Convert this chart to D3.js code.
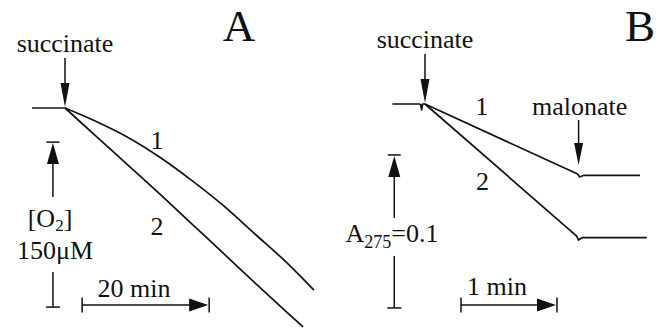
<!DOCTYPE html>
<html lang="en">
<head>
<meta charset="utf-8">
<title>Succinate oxidation traces</title>
<script src="https://d3js.org/d3.v7.min.js"></script>
<style>
  body { margin: 0; background: #fff; }
  text { font-family: "Liberation Serif", "Times New Roman", serif; fill: #111; font-size: 26px; }
</style>
</head>
<body>
<svg width="665" height="331"></svg>
<script>
// panel A: oxygen electrode trace, time in min, [O2] in uM
const baseTimeA = [-5.2, 0];
const baseO2A = [250, 250];
const timeA1 = [0, 5, 10, 15, 20, 25, 30, 35, 39.2];
const o2A1 = [250, 237.5, 223, 205, 184, 161, 135, 109, 84.5];
const timeA2 = [0, 5, 10, 15, 20, 25, 30, 35, 37.5];
const o2A2 = [250, 223.8, 197.6, 171.4, 144.5, 117.6, 90.5, 64, 51];

// panel B: A275 trace, time in min
const baseTimeB = [-0.34, -0.06, -0.045, -0.035, -0.025, 0];
const absBaseB = [0.300, 0.300, 0.2995, 0.2962, 0.300, 0.300];
const timeB1 = [0, 1.59, 1.61, 1.65, 2.24];
const absB1 = [0.300, 0.2542, 0.2523, 0.2533, 0.2533];
const timeB2 = [0, 1.58, 1.60, 1.64, 2.31];
const absB2 = [0.300, 0.2137, 0.2111, 0.2127, 0.2127];

// additions and scale bars
const succinateTime = 0;
const malonateTime = 1.6;
const barA = {t: -1.9, top: 219, bottom: 69, t0: 2.7, t1: 22.7};   // 150 uM, 20 min
const barB = {t: -0.32, top: 0.2667, bottom: 0.1667, t0: 0.375, t1: 1.375}; // 0.1, 1 min

const svg = d3.select("svg");

const xA = d3.scaleLinear().domain([0, 20]).range([65, 192]);
const yA = d3.scaleLinear().domain([250, 100]).range([108, 273]);
const xB = d3.scaleLinear().domain([0, 1]).range([425, 521]);
const yB = d3.scaleLinear().domain([0.3, 0.2]).range([104, 257]);

function zip(ts, vs) { return ts.map((t, i) => [t, vs[i]]) }

function trace(x, y, data, curve) {
  svg.append("path")
    .datum(data)
    .attr("fill", "none")
    .attr("stroke", "#111")
    .attr("stroke-width", 1.7)
    .attr("stroke-linejoin", "round")
    .attr("d", d3.line().x(d => x(d[0])).y(d => y(d[1])).curve(curve));
}

function head(x, y, dir, len, half) {
  let pts;
  if (dir == "down") pts = [[x, y], [x - half, y - len], [x + half, y - len]];
  if (dir == "up") pts = [[x, y], [x - half, y + len], [x + half, y + len]];
  if (dir == "right") pts = [[x, y], [x - len, y - half], [x - len, y + half]];
  svg.append("polygon").attr("points", pts.join(" ")).attr("fill", "#111");
}

function seg(x1, y1, x2, y2) {
  svg.append("line")
    .attr("x1", x1).attr("y1", y1).attr("x2", x2).attr("y2", y2)
    .attr("stroke", "#111").attr("stroke-width", 1.5);
}

function label(x, y, txt, size) {
  return svg.append("text").attr("x", x).attr("y", y)
    .attr("text-anchor", "middle")
    .style("font-size", (size || 26) + "px")
    .text(txt);
}

// traces
trace(xA, yA, zip(baseTimeA, baseO2A), d3.curveLinear);
trace(xA, yA, zip(timeA1, o2A1), d3.curveMonotoneX);
trace(xA, yA, zip(timeA2, o2A2), d3.curveMonotoneX);
trace(xB, yB, zip(baseTimeB, absBaseB), d3.curveLinear);
trace(xB, yB, zip(timeB1, absB1), d3.curveLinear);
trace(xB, yB, zip(timeB2, absB2), d3.curveLinear);

// addition arrows
function addArrow(x, tip, name) {
  seg(x, tip - 49, x, tip - 10);
  head(x, tip, "down", 24, 4.5);
  label(x, tip - 55, name);
}
addArrow(xA(succinateTime), yA(250) - 1, "succinate");
addArrow(xB(succinateTime), yB(0.3) - 1, "succinate");
(function() {
  const x = xB(malonateTime), tip = yB(absB1[1]) - 9;
  seg(x, tip - 45, x, tip - 10);
  head(x, tip, "down", 22, 4.5);
  label(x + 1, tip - 50, "malonate");
})();

// trace numbers
label(xA(14.5), yA(215) + 2, "1");
label(xA(14.5), yA(135), "2");
label(xB(0.59), yB(0.2925), "1");
label(xB(0.6), yB(0.244), "2");

// panel letters
label(239, 41, "A", 45);
label(640, 41, "B", 45);

// vertical scale bars
function vBar(x, top, bottom, gapTop, gapBottom) {
  seg(x - 6.5, top, x + 6.5, top);
  head(x, top + 1, "up", 21, 6);
  seg(x, top + 18, x, gapTop);
  seg(x, gapBottom, x, bottom);
  seg(x - 7, bottom, x + 7, bottom);
}
vBar(xA(barA.t), yA(barA.top), yA(barA.bottom), 197, 272);
vBar(xB(barB.t), yB(barB.top), yB(barB.bottom), 218, 256);

let o2 = svg.append("text").attr("x", 50).attr("y", 227).attr("text-anchor", "middle");
o2.append("tspan").text("[O");
o2.append("tspan").attr("dy", 4).style("font-size", "17px").text("2");
o2.append("tspan").attr("dy", -4).text("]");
label(55, 259, "150\u03bcM");

let ab = svg.append("text").attr("x", 392).attr("y", 242).attr("text-anchor", "middle");
ab.append("tspan").text("A");
ab.append("tspan").attr("dy", 6).style("font-size", "18px").text("275");
ab.append("tspan").attr("dy", -6).text("=0.1");

// horizontal time bars
function hBar(x0, x1, y) {
  seg(x0, y - 7.5, x0, y + 7.5);
  seg(x0, y, x1 - 15, y);
  head(x1 - 1, y, "right", 19, 6.5);
  seg(x1, y - 7.5, x1, y + 7.5);
}
hBar(xA(barA.t0), xA(barA.t1), 305);
hBar(xB(barB.t0), xB(barB.t1), 305);
label(134, 297, "20 min");
label(497, 295, "1 min");
</script>
</body>
</html>
